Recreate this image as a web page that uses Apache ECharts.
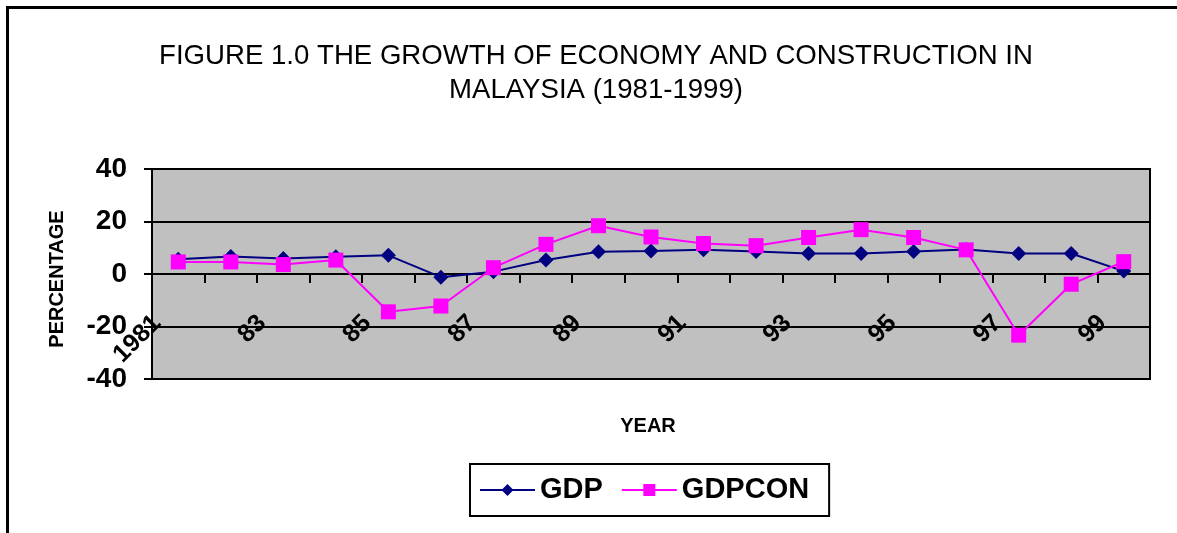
<!DOCTYPE html>
<html>
<head>
<meta charset="utf-8">
<script src="https://cdn.jsdelivr.net/npm/echarts@6/dist/echarts.min.js"></script>
<style>
  html, body { margin: 0; padding: 0; background: #fff; }
  #chart { width: 1177px; height: 533px; }
</style>
</head>
<body>
<div id="chart"></div>
<script>
// data
var years = ['1981', '82', '83', '84', '85', '86', '87', '88', '89', '90',
             '91', '92', '93', '94', '95', '96', '97', '98', '99'];
var gdp = [5.6, 6.7, 5.9, 6.6, 7.1, -1.2, 0.9, 5.3, 8.5, 8.8,
           9.2, 8.6, 7.8, 7.8, 8.6, 9.3, 7.8, 7.8, 1.1];
var gdpcon = [4.6, 4.6, 3.6, 5.3, -14.4, -12.2, 2.4, 11.3, 18.4, 14.1,
              11.6, 10.8, 13.9, 16.9, 13.9, 9.2, -23.3, -3.9, 4.7];
var yTicks = [-40, -20, 0, 20, 40];

var font = "'Liberation Sans', Arial, sans-serif";
var chart = echarts.init(document.getElementById('chart'));

var option = {
    animation: false,
    backgroundColor: '#fff',
    title: {
        text: 'FIGURE 1.0 THE GROWTH OF ECONOMY AND CONSTRUCTION IN\nMALAYSIA (1981-1999)',
        left: 596,
        top: 39,
        padding: 0,
        textAlign: 'center',
        textStyle: {
            fontFamily: font,
            fontSize: 27.6,
            fontWeight: 'normal',
            color: '#000',
            lineHeight: 34
        }
    },
    graphic: [
        {
            type: 'rect',
            shape: { x: 7.5, y: 7.5, width: 1300, height: 700 },
            style: { fill: 'none', stroke: '#000', lineWidth: 3 },
            silent: true
        },
        {
            type: 'text',
            x: 648,
            y: 426,
            style: {
                text: 'YEAR',
                fontFamily: font,
                fontSize: 20,
                fontWeight: 'bold',
                fill: '#000',
                align: 'center',
                verticalAlign: 'middle'
            }
        }
    ],
    legend: {
        left: 470,
        top: 464,
        orient: 'horizontal',
        padding: [11, 20, 11, 9],
        itemGap: 18,
        itemWidth: 55,
        itemHeight: 15,
        itemTextGap: 10,
        borderColor: '#000',
        borderWidth: 2,
        backgroundColor: '#fff',
        textStyle: {
            fontFamily: font,
            fontSize: 29,
            fontWeight: 'bold',
            color: '#000',
            lineHeight: 30
        },
        data: ['GDP', 'GDPCON']
    },
    grid: {
        left: 152,
        right: 27,
        top: 169,
        bottom: 154,
        show: true,
        backgroundColor: '#C0C0C0',
        borderColor: '#000',
        borderWidth: 2
    },
    xAxis: {
        type: 'category',
        data: years,
        boundaryGap: true,
        axisLine: { show: true, onZero: true, lineStyle: { color: '#000', width: 2 } },
        axisTick: { show: true, interval: 0, length: 9, lineStyle: { color: '#000', width: 2 } },
        axisLabel: {
            interval: 1,
            rotate: 45,
            margin: -81,
            padding: [0, 30, 0, 0],
            fontFamily: font,
            fontSize: 25,
            fontWeight: 'bold',
            color: '#000'
        },
        splitLine: { show: false }
    },
    yAxis: {
        type: 'value',
        min: yTicks[0],
        max: yTicks[yTicks.length - 1],
        interval: 20,
        name: 'PERCENTAGE',
        nameLocation: 'middle',
        nameGap: 85,
        nameRotate: 90,
        nameTextStyle: {
            fontFamily: font,
            fontSize: 20,
            fontWeight: 'bold',
            color: '#000',
            padding: [0, 10, 0, 0]
        },
        axisLine: { show: true, lineStyle: { color: '#000', width: 2 } },
        axisTick: { show: true, length: 8, lineStyle: { color: '#000', width: 2 } },
        axisLabel: {
            margin: 25,
            fontFamily: font,
            fontSize: 28,
            fontWeight: 'bold',
            color: '#000'
        },
        splitLine: { show: true, lineStyle: { color: '#000', width: 2 } }
    },
    series: [
        {
            name: 'GDP',
            type: 'line',
            data: gdp,
            symbol: 'diamond',
            symbolSize: 15,
            color: '#000080',
            lineStyle: { color: '#000080', width: 2 },
            itemStyle: { color: '#000080' }
        },
        {
            name: 'GDPCON',
            type: 'line',
            data: gdpcon,
            symbol: 'rect',
            symbolSize: 15,
            color: '#FF00FF',
            lineStyle: { color: '#FF00FF', width: 2 },
            itemStyle: { color: '#FF00FF' }
        }
    ]
};

chart.setOption(option);
</script>
</body>
</html>
